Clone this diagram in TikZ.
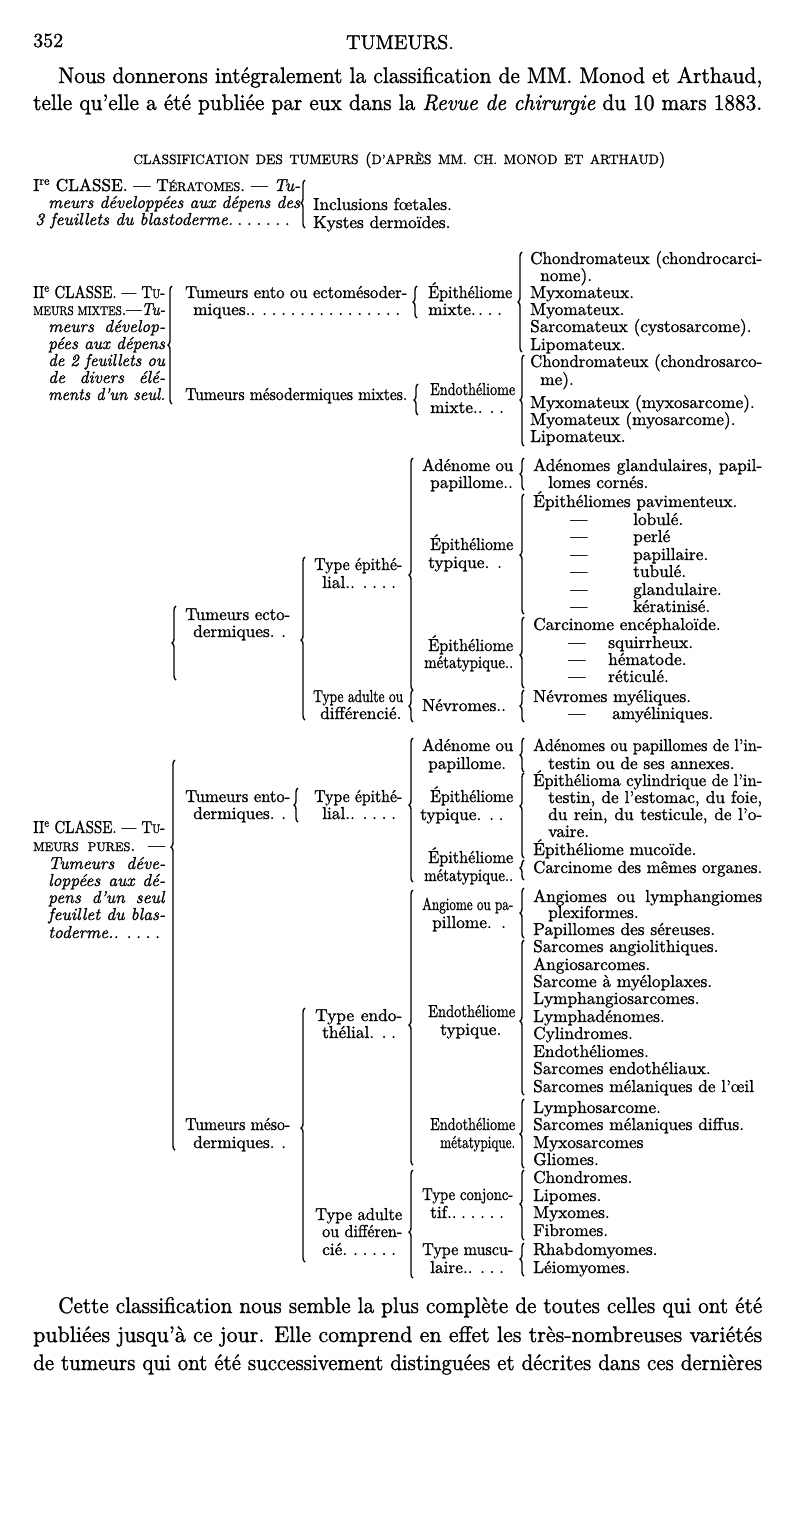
\documentclass[tikz,border=0pt]{standalone}
\usepackage{fontspec}
\setmainfont{lmroman10-regular.otf}[ItalicFont=lmroman10-italic.otf,BoldFont=lmroman10-bold.otf,FakeBold=1.2]
\usepackage{graphicx}
\usetikzlibrary{decorations.pathreplacing}
\newcounter{nc}
\newsavebox\jbox
\newcommand\tf{\fontsize{17.3}{17.4}\selectfont}
\newcommand\bodyf{\fontsize{22.5}{27}\selectfont}
\newcommand\fsc[1]{{\fontsize{12.5}{13}\selectfont #1}}
\newcommand\lead{\leaders\hbox to 0.55em{\hss.\hss}\hfill}
\newcommand\Tx[3]{\stepcounter{nc}\node[txt] (n\arabic{nc}) at (#1,#2+5) {#3};}
\newcommand\Jx[4]{\stepcounter{nc}%
  \pgfmathsetmacro\jw{#3-#1}%
  \node[txt] (n\arabic{nc}) at (#1,#2+5) {\sbox\jbox{#4}\ifdim\wd\jbox>\jw pt\relax\resizebox{\jw pt}{\height}{\usebox\jbox}\else\makebox[\jw pt][s]{#4}\fi};}
% fit: natural width, squeezed only if wider than limit
\newcommand\Fx[4]{\stepcounter{nc}%
  \pgfmathsetmacro\jw{#3-#1}%
  \node[txt] (n\arabic{nc}) at (#1,#2+5) {\sbox\jbox{#4}\ifdim\wd\jbox>\jw pt\relax\resizebox{\jw pt}{\height}{\usebox\jbox}\else\usebox\jbox\fi};}
\newcommand\Br[4]{\pgfmathsetmacro\asp{(#3-#4)/(#3-#2)}%
  \draw[brc,decoration={brace,amplitude=4pt,aspect=\asp}] (#1,#3) -- (#1,#2);}
\tikzset{txt/.style={anchor=base west,inner sep=0pt,font=\tf},
  brc/.style={decorate,line width=1.4pt}}
\begin{document}
\begin{tikzpicture}[x=1pt,y=-1pt]
\useasboundingbox (0,0) rectangle (800,1535);
\fill[white] (0,0) rectangle (800,1535);
% header
\Tx{33}{42}{\fontsize{20}{20}\selectfont 352}
\stepcounter{nc}\node[txt,anchor=base] (n\arabic{nc}) at (400,49) {\fontsize{20}{20}\selectfont TUMEURS.};
\Jx{58}{78}{762}{\bodyf Nous donnerons intégralement la classification de MM. Monod et Arthaud,}
\Jx{33}{105}{762}{\bodyf telle qu'elle a été publiée par eux dans la \textit{Revue de chirurgie} du 10 mars 1883.}
\Jx{133}{159}{665}{\fontsize{13.5}{14}\selectfont CLASSIFICATION DES TUMEURS {\fontsize{16}{16}\selectfont(}D'APRÈS MM. CH. MONOD ET ARTHAUD{\fontsize{16}{16}\selectfont)}}
% class I
\Jx{33}{186}{300}{I\textsuperscript{re} CLASSE. — T\fsc{ÉRATOMES}. — \textit{Tu-}}
\Jx{48}{203}{300}{\textit{meurs développées aux dépens des}}
\Jx{35}{220}{300}{\textit{3 feuillets du blastoderme.}\lead}
\Br{305}{180}{228}{203}
\Tx{313}{205}{Inclusions fœtales.}
\Tx{313}{223}{Kystes dermoïdes.}
% class II mixtes
\Jx{33}{293}{165}{II\textsuperscript{e} CLASSE. — T\fsc{U}-}
\Jx{33}{310}{165}{\fsc{MEURS MIXTES}.—\textit{Tu-}}
\Jx{48}{327}{165}{\textit{meurs dévelop-}}
\Jx{48}{344}{165}{\textit{pées aux dépens}}
\Jx{48}{361}{165}{\textit{de 2 feuillets ou}}
\Jx{48}{378}{165}{\textit{de divers élé-}}
\Jx{48}{395}{165}{\textit{ments d'un seul.}}
\Br{172}{286}{404}{345}
\Jx{185}{293}{407}{Tumeurs ento ou ectomésoder-}
\Jx{193}{310}{407}{miques..\lead}
\Jx{185}{395}{407}{Tumeurs mésodermiques mixtes.}
\Br{417}{286}{318}{302}
\Fx{428}{293}{512}{Épithéliome}
\Jx{428}{310}{510}{mixte.\lead}
\Br{418}{384}{415}{400}
\Fx{430}{390}{515}{Endothéliome}
\Jx{430}{408}{513}{mixte..\lead}
\Br{522}{252}{352}{302}
\Jx{530}{259}{762}{Chondromateux (chondrocarci-}
\Tx{540}{276}{nome).}
\Tx{530}{293}{Myxomateux.}
\Tx{530}{310}{Myomateux.}
\Tx{530}{327}{Sarcomateux (cystosarcome).}
\Tx{530}{345}{Lipomateux.}
\Br{524}{355}{446}{400}
\Jx{530}{362}{762}{Chondromateux (chondrosarco-}
\Tx{540}{380}{me).}
\Tx{530}{403}{Myxomateux (myxosarcome).}
\Tx{530}{420}{Myomateux (myosarcome).}
\Tx{530}{437}{Lipomateux.}
% class III : ecto
\Br{176}{606}{680}{643}
\Jx{185}{615}{290}{Tumeurs ecto-}
\Jx{193}{632}{290}{dermiques.\lead}
\Br{305}{557}{720}{640}
\Jx{314}{565}{402}{Type épithé-}
\Jx{322}{583}{402}{lial..\lead}
\Br{413}{458}{690}{575}
\Jx{422}{466}{513}{Adénome ou}
\Jx{430}{483}{513}{papillome..\lead}
\Br{524}{458}{490}{474}
\Jx{533}{466}{762}{Adénomes glandulaires, papil-}
\Tx{548}{483}{lomes cornés.}
\Fx{430}{545}{513}{Épithéliome}
\Jx{428}{563}{513}{typique.\lead}
\Br{524}{494}{614}{555}
\Tx{533}{502}{Épithéliomes pavimenteux.}
\Tx{570}{520}{—}\Tx{633}{520}{lobulé.}
\Tx{570}{537}{—}\Tx{633}{537}{perlé}
\Tx{570}{555}{—}\Tx{633}{555}{papillaire.}
\Tx{570}{572}{—}\Tx{633}{572}{tubulé.}
\Tx{570}{590}{—}\Tx{633}{590}{glandulaire.}
\Tx{570}{607}{—}\Tx{633}{607}{kératinisé.}
\Fx{428}{646}{513}{Épithéliome}
\Jx{424}{663}{513}{métatypique..\lead}
\Br{524}{617}{688}{655}
\Tx{533}{625}{Carcinome encéphaloïde.}
\Tx{568}{643}{—}\Tx{608}{643}{squirrheux.}
\Tx{568}{660}{—}\Tx{608}{660}{hématode.}
\Tx{568}{677}{—}\Tx{608}{677}{réticulé.}
\Jx{313}{697}{403}{Type adulte ou}
\Jx{320}{714}{402}{différencié.}
\Br{413}{690}{722}{706}
\Jx{422}{706}{513}{Névromes..\lead}
\Br{524}{690}{722}{706}
\Tx{533}{697}{Névromes myéliques.}
\Tx{568}{714}{—}\Tx{612}{714}{amyéliniques.}
% ento
\Jx{422}{746}{513}{Adénome ou}
\Jx{428}{764}{513}{papillome.\lead}
\Br{524}{738}{772}{755}
\Jx{533}{746}{762}{Adénomes ou papillomes de l'in-}
\Tx{548}{764}{testin ou de ses annexes.}
\Br{413}{738}{882}{805}
\Jx{185}{797}{290}{Tumeurs ento-}
\Jx{193}{814}{290}{dermiques.\lead}
\Br{298}{788}{822}{805}
\Jx{314}{797}{402}{Type épithé-}
\Jx{322}{814}{402}{lial..\lead}
\Fx{430}{797}{513}{Épithéliome}
\Jx{420}{815}{513}{typique.\lead}
\Br{524}{773}{858}{806}
\Jx{533}{781}{762}{Épithélioma cylindrique de l'in-}
\Jx{548}{798}{762}{testin, de l'estomac, du foie,}
\Jx{548}{815}{762}{du rein, du testicule, de l'o-}
\Tx{548}{832}{vaire.}
\Tx{533}{850}{Épithéliome mucoïde.}
\Fx{428}{858}{513}{Épithéliome}
\Jx{424}{876}{513}{métatypique..\lead}
\Br{524}{860}{880}{868}
\Fx{533}{868}{762}{Carcinome des mêmes organes.}
% class III left
\Jx{33}{828}{165}{II\textsuperscript{e} CLASSE. — T\fsc{U}-}
\Jx{33}{846}{165}{\fsc{MEURS PURES}. —}
\Jx{48}{864}{165}{\textit{Tumeurs déve-}}
\Jx{48}{881}{165}{\textit{loppées aux dé-}}
\Jx{48}{898}{165}{\textit{pens d'un seul}}
\Jx{48}{915}{165}{\textit{feuillet du blas-}}
\Jx{48}{933}{165}{\textit{toderme..}\lead}
\Br{175}{760}{1150}{847}
% meso
\Jx{422}{905}{513}{Angiome ou pa-}
\Jx{432}{923}{513}{pillome.\lead}
\Br{524}{888}{938}{913}
\Jx{533}{897}{762}{Angiomes ou lymphangiomes}
\Tx{548}{913}{plexiformes.}
\Tx{533}{930}{Papillomes des séreuses.}
\Br{413}{890}{1165}{1025}
\Jx{315}{1016}{402}{Type endo-}
\Jx{322}{1033}{402}{thélial.\lead}
\Fx{428}{1012}{515}{Endothéliome}
\Jx{440}{1030}{513}{typique.\lead}
\Br{524}{940}{1095}{1021}
\Tx{533}{947}{Sarcomes angiolithiques.}
\Tx{533}{965}{Angiosarcomes.}
\Tx{533}{982}{Sarcome à myéloplaxes.}
\Tx{533}{999}{Lymphangiosarcomes.}
\Tx{533}{1017}{Lymphadénomes.}
\Tx{533}{1034}{Cylindromes.}
\Tx{533}{1052}{Endothéliomes.}
\Tx{533}{1069}{Sarcomes endothéliaux.}
\Fx{533}{1087}{760}{Sarcomes mélaniques de l'œil}
\Fx{430}{1125}{515}{Endothéliome}
\Fx{440}{1143}{515}{métatypique.}
\Br{524}{1099}{1168}{1134}
\Tx{533}{1108}{Lymphosarcome.}
\Fx{533}{1125}{762}{Sarcomes mélaniques diffus.}
\Tx{533}{1143}{Myxosarcomes}
\Tx{533}{1160}{Gliomes.}
\Jx{185}{1125}{290}{Tumeurs méso-}
\Jx{193}{1143}{290}{dermiques.\lead}
\Br{305}{1008}{1262}{1128}
\Jx{315}{1215}{402}{Type adulte}
\Jx{322}{1232}{402}{ou différen-}
\Jx{322}{1250}{402}{cié.\lead}
\Br{413}{1170}{1278}{1232}
\Jx{422}{1195}{513}{Type conjonc-}
\Jx{430}{1213}{513}{tif..\lead}
\Br{524}{1170}{1240}{1204}
\Tx{533}{1178}{Chondromes.}
\Tx{533}{1196}{Lipomes.}
\Tx{533}{1213}{Myxomes.}
\Tx{533}{1231}{Fibromes.}
\Jx{422}{1250}{513}{Type muscu-}
\Jx{430}{1268}{513}{laire..\lead}
\Br{524}{1243}{1276}{1259}
\Tx{533}{1250}{Rhabdomyomes.}
\Tx{533}{1268}{Léiomyomes.}
% footer
\Jx{58}{1308}{762}{\bodyf Cette classification nous semble la plus complète de toutes celles qui ont été}
\Jx{33}{1337}{762}{\bodyf publiées jusqu'à ce jour. Elle comprend en effet les très-nombreuses variétés}
\Jx{33}{1365}{762}{\bodyf de tumeurs qui ont été successivement distinguées et décrites dans ces dernières}
\end{tikzpicture}
\end{document}
